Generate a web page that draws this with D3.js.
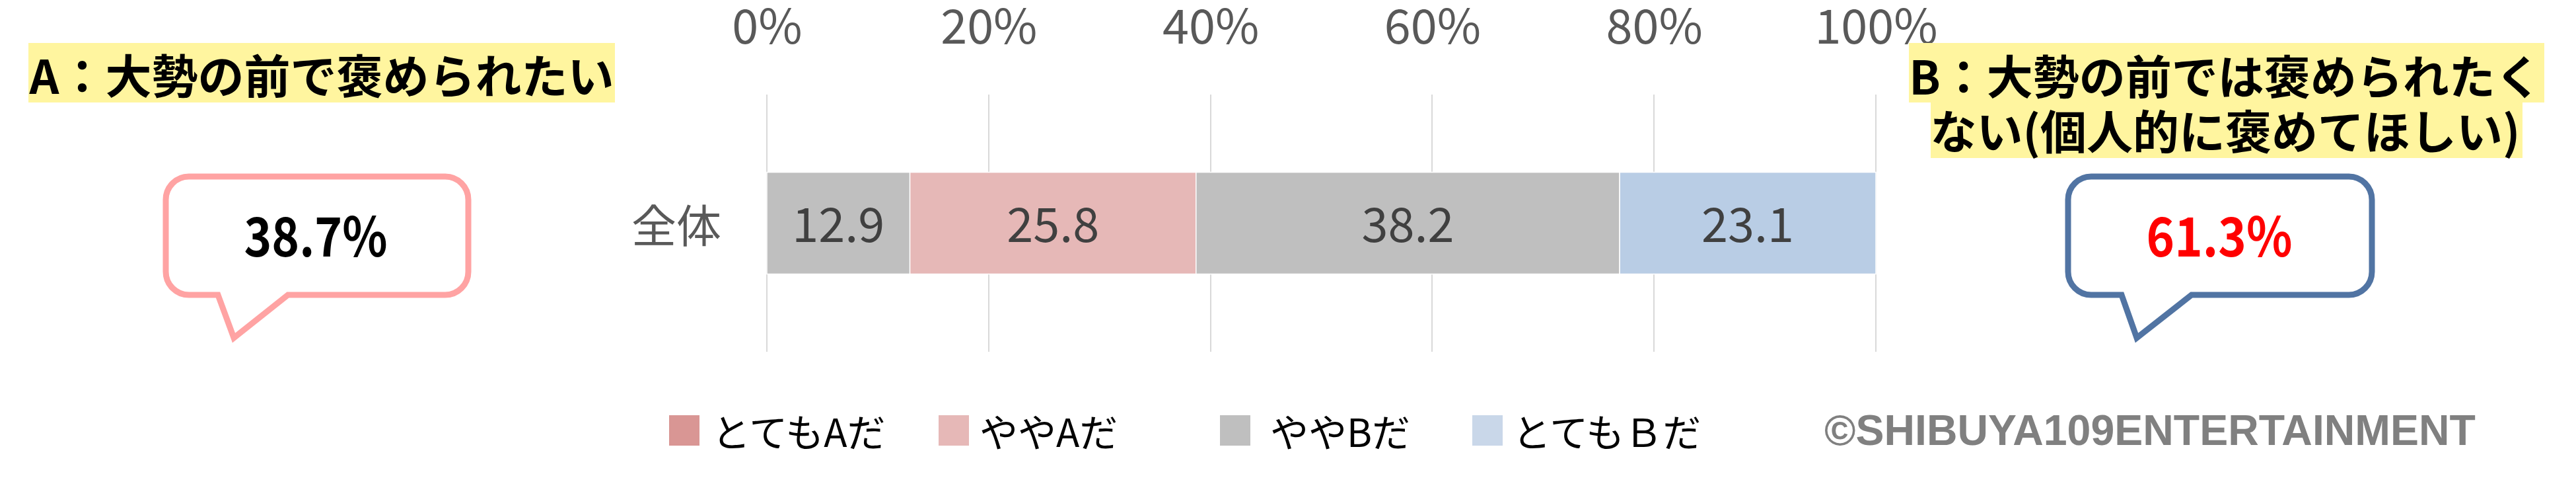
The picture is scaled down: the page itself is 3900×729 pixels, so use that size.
<!DOCTYPE html>
<html>
<head>
<meta charset="utf-8">
<title>stacked-bar</title>
<script src="https://cdn.jsdelivr.net/npm/d3@7"></script>
<style>
  body { margin: 0; background: #fff; }
  svg { display: block; background: #fff; font-family: "Noto Sans CJK JP", "Noto Sans", sans-serif; }
  .axis text { font-size: 72px; fill: #595959; font-family: "Noto Sans CJK JP", sans-serif; }
  .grid line { stroke: #D9D9D9; stroke-width: 2px; shape-rendering: crispEdges; }
  .cat { font-size: 68px; fill: #595959; }
  .val { font-size: 72px; fill: #404040; }
  .legend text { font-size: 58px; fill: #000; }
  .title { font-size: 70px; font-weight: bold; fill: #000; }
  .big { font-size: 82px; font-weight: bold; }
  .copy { font-size: 64px; font-weight: bold; fill: #808080; font-family: "Liberation Sans", Arial, sans-serif; }
</style>
</head>
<body>
<svg width="3900" height="729"></svg>
<script>
// data
var categories = ["全体"];
var seriesNames = ["とてもAだ", "ややAだ", "ややBだ", "とてもＢだ"];
var seriesValues = [[12.9], [25.8], [38.2], [23.1]];
var tickValues = [0, 20, 40, 60, 80, 100];
var barColors = ["#BFBFBF", "#E6B8B7", "#BFBFBF", "#B9CDE5"];
var legendColors = ["#D99694", "#E6B8B7", "#BFBFBF", "#C9D7E9"];
var titleA = ["A：大勢の前で褒められたい"];
var titleB = ["B：大勢の前では褒められたく", "ない(個人的に褒めてほしい)"];
var copyright = "©SHIBUYA109ENTERTAINMENT";

var svg = d3.select("svg");

// rows for d3.stack
var table = categories.map(function(c, i) {
  var row = { cat: c };
  seriesNames.forEach(function(k, j) { row[k] = seriesValues[j][i]; });
  return row;
});
var stacked = d3.stack().keys(seriesNames)(table);

var x = d3.scaleLinear().domain([0, 100]).range([1161, 2840]);
var y = d3.scaleBand().domain(categories).range([143, 532]).padding(0.433);

// gridlines
svg.append("g").attr("class", "grid")
  .selectAll("line").data(tickValues).enter().append("line")
  .attr("x1", function(d) { return x(d); })
  .attr("x2", function(d) { return x(d); })
  .attr("y1", 143).attr("y2", 532);

// top axis labels
var axis = svg.append("g").attr("class", "axis")
  .attr("transform", "translate(0,75)")
  .call(d3.axisTop(x).tickValues(tickValues).tickSize(0).tickPadding(9)
    .tickFormat(function(d) { return d + "%"; }));
axis.select(".domain").remove();

// category label
svg.append("g").selectAll("text").data(categories).enter().append("text")
  .attr("class", "cat")
  .attr("x", 1092)
  .attr("y", function(d) { return y(d) + y.bandwidth() / 2; })
  .attr("text-anchor", "end")
  .attr("dominant-baseline", "central")
  .text(function(d) { return d; });

// bars
var layer = svg.append("g").selectAll("g").data(stacked).enter().append("g")
  .attr("fill", function(d, i) { return barColors[i]; });

layer.selectAll("rect").data(function(d) { return d; }).enter().append("rect")
  .attr("x", function(d) { return x(d[0]); })
  .attr("width", function(d) { return x(d[1]) - x(d[0]); })
  .attr("y", function(d) { return y(d.data.cat); })
  .attr("height", y.bandwidth())
  .attr("stroke", "#fff")
  .attr("stroke-width", 1.5);

layer.selectAll("text").data(function(d) { return d; }).enter().append("text")
  .attr("class", "val")
  .attr("x", function(d) { return (x(d[0]) + x(d[1])) / 2; })
  .attr("y", function(d) { return y(d.data.cat) + y.bandwidth() / 2 - 3; })
  .attr("text-anchor", "middle")
  .attr("dominant-baseline", "central")
  .text(function(d) { return d3.format(".1f")(d[1] - d[0]); });

// legend
var legendX = [1013, 1421, 1847, 2229];
var legendTextX = [1078, 1483, 1923, 2290];
var lg = svg.append("g").attr("class", "legend");
lg.selectAll("rect").data(seriesNames).enter().append("rect")
  .attr("x", function(d, i) { return legendX[i]; })
  .attr("y", 628).attr("width", 46).attr("height", 46)
  .attr("fill", function(d, i) { return legendColors[i]; });
lg.selectAll("text").data(seriesNames).enter().append("text")
  .attr("x", function(d, i) { return legendTextX[i]; })
  .attr("y", 651)
  .attr("dominant-baseline", "central")
  .text(function(d) { return d; });

svg.append("text").attr("class", "copy")
  .attr("x", 2762).attr("y", 673)
  .attr("textLength", 986).attr("lengthAdjust", "spacingAndGlyphs")
  .text(copyright);

// side titles with yellow highlight
var hl = "#FFF59F";
svg.append("rect").attr("x", 43).attr("y", 65).attr("width", 888).attr("height", 90).attr("fill", hl);
svg.append("rect").attr("x", 2890).attr("y", 65).attr("width", 962).attr("height", 90).attr("fill", hl);
svg.append("rect").attr("x", 2923).attr("y", 155).attr("width", 896).attr("height", 84).attr("fill", hl);

svg.append("text").attr("class", "title")
  .attr("x", 487).attr("y", 111)
  .attr("text-anchor", "middle").attr("dominant-baseline", "central")
  .text(titleA[0]);
svg.selectAll(".tb").data(titleB).enter().append("text")
  .attr("class", "title tb")
  .attr("x", 3369)
  .attr("y", function(d, i) { return i ? 195 : 112; })
  .attr("text-anchor", "middle").attr("dominant-baseline", "central")
  .text(function(d) { return d; });

// speech bubbles
function bubble(b) {
  var p = d3.path(), r = b.r, x1 = b.x + b.w, y1 = b.y + b.h;
  p.moveTo(b.x + r, b.y);
  p.lineTo(x1 - r, b.y);
  p.arcTo(x1, b.y, x1, b.y + r, r);
  p.lineTo(x1, y1 - r);
  p.arcTo(x1, y1, x1 - r, y1, r);
  p.lineTo(b.tail[1], y1);
  p.lineTo(b.tip[0], b.tip[1]);
  p.lineTo(b.tail[0], y1);
  p.lineTo(b.x + r, y1);
  p.arcTo(b.x, y1, b.x, y1 - r, r);
  p.lineTo(b.x, b.y + r);
  p.arcTo(b.x, b.y, b.x + r, b.y, r);
  p.closePath();
  return p.toString();
}

var shareA = d3.sum(seriesValues.slice(0, 2), function(v) { return v[0]; });
var shareB = d3.sum(seriesValues.slice(2), function(v) { return v[0]; });

var bubbles = [
  { x: 251, y: 267, w: 458, h: 179, r: 35, tail: [330, 436], tip: [354, 511],
    stroke: "#FFA3A3", color: "#000", value: shareA, tx: 478, tw: 217 },
  { x: 3131, y: 267, w: 460, h: 179, r: 35, tail: [3212, 3318], tip: [3235, 511],
    stroke: "#5174A3", color: "#FF0000", value: shareB, tx: 3360, tw: 221 }
];

var bg = svg.append("g").selectAll("g").data(bubbles).enter().append("g");
bg.append("path")
  .attr("d", bubble)
  .attr("fill", "#fff")
  .attr("stroke", function(d) { return d.stroke; })
  .attr("stroke-width", 9)
  .attr("stroke-linejoin", "miter");
bg.append("text").attr("class", "big")
  .attr("x", function(d) { return d.tx - d.tw / 2; })
  .attr("y", 352)
  .attr("textLength", function(d) { return d.tw; })
  .attr("lengthAdjust", "spacingAndGlyphs")
  .attr("dominant-baseline", "central")
  .attr("fill", function(d) { return d.color; })
  .text(function(d) { return d3.format(".1f")(d.value) + "%"; });
</script>
</body>
</html>
